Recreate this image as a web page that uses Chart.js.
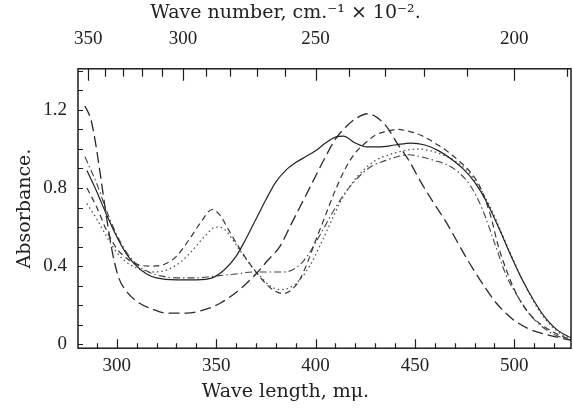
<!DOCTYPE html>
<html>
<head>
<meta charset="utf-8">
<script src="https://cdn.jsdelivr.net/npm/chart.js@4.4.1/dist/chart.umd.min.js"></script>
<style>
  html, body { margin: 0; padding: 0; background: #fff; }
  #wrap { width: 573px; height: 410px; }
</style>
</head>
<body>
<div id="wrap"><canvas id="myChart" width="573" height="410"></canvas></div>
<script>
// spectra (wave length in mμ, absorbance)
const wlSolid = [285, 290, 295, 300, 305, 310, 315, 320, 330, 340, 348, 354, 360, 365, 370, 375, 380, 385, 390, 395, 400, 405, 410, 414, 420, 426, 432, 440, 448, 455, 462, 468, 474, 480, 486, 492, 498, 504, 510, 516, 522, 529];
const absSolid = [0.89, 0.78, 0.66, 0.55, 0.46, 0.40, 0.36, 0.34, 0.33, 0.33, 0.34, 0.38, 0.45, 0.54, 0.64, 0.74, 0.83, 0.89, 0.93, 0.96, 0.99, 1.03, 1.06, 1.065, 1.03, 1.01, 1.01, 1.02, 1.03, 1.02, 0.99, 0.95, 0.90, 0.83, 0.73, 0.60, 0.46, 0.33, 0.22, 0.13, 0.07, 0.03];

const wlLongDash = [284, 287, 289, 292, 295, 298, 301, 305, 310, 318, 325, 335, 345, 352, 358, 364, 370, 376, 382, 388, 394, 400, 405, 410, 416, 421, 426, 431, 436, 441, 447, 453, 459, 466, 471, 476, 484, 491, 499, 507, 516, 529];
const absLongDash = [1.22, 1.15, 1.05, 0.85, 0.64, 0.46, 0.34, 0.27, 0.22, 0.18, 0.16, 0.16, 0.18, 0.21, 0.25, 0.30, 0.36, 0.43, 0.50, 0.62, 0.74, 0.86, 0.96, 1.05, 1.12, 1.16, 1.18, 1.16, 1.11, 1.03, 0.94, 0.83, 0.73, 0.62, 0.53, 0.44, 0.31, 0.21, 0.13, 0.08, 0.05, 0.02];

const wlDash = [285, 290, 295, 300, 305, 310, 318, 324, 330, 336, 342, 348, 352, 356, 360, 365, 370, 375, 380, 384, 388, 392, 396, 400, 405, 410, 415, 420, 425, 430, 436, 441, 447, 453, 460, 466, 472, 478, 483, 488, 492, 496, 500, 505, 510, 515, 520, 529];
const absDash = [0.80, 0.70, 0.58, 0.49, 0.44, 0.41, 0.40, 0.41, 0.45, 0.53, 0.62, 0.69, 0.66, 0.59, 0.52, 0.44, 0.37, 0.31, 0.27, 0.26, 0.28, 0.33, 0.42, 0.53, 0.66, 0.79, 0.90, 0.98, 1.03, 1.07, 1.09, 1.10, 1.09, 1.07, 1.03, 0.99, 0.94, 0.88, 0.80, 0.66, 0.50, 0.38, 0.28, 0.19, 0.13, 0.09, 0.06, 0.02];

const wlDot = [285, 290, 295, 300, 305, 310, 318, 325, 332, 338, 344, 350, 354, 358, 362, 367, 372, 377, 382, 387, 392, 397, 402, 407, 412, 418, 424, 430, 437, 444, 452, 458, 464, 470, 476, 482, 488, 494, 500, 506, 512, 518, 524, 529];
const absDot = [0.72, 0.64, 0.55, 0.47, 0.42, 0.39, 0.37, 0.38, 0.42, 0.48, 0.55, 0.60, 0.59, 0.54, 0.48, 0.41, 0.35, 0.30, 0.28, 0.29, 0.33, 0.40, 0.50, 0.61, 0.72, 0.82, 0.89, 0.94, 0.97, 0.99, 1.00, 0.99, 0.97, 0.94, 0.89, 0.81, 0.70, 0.56, 0.42, 0.29, 0.18, 0.10, 0.05, 0.03];

const wlDashDot = [284, 290, 295, 300, 305, 310, 316, 322, 330, 340, 350, 360, 368, 376, 384, 390, 395, 400, 405, 410, 416, 422, 428, 435, 441, 447, 453, 460, 466, 472, 478, 484, 490, 496, 502, 508, 514, 520, 529];
const absDashDot = [0.96, 0.82, 0.68, 0.56, 0.47, 0.41, 0.37, 0.35, 0.34, 0.34, 0.35, 0.36, 0.37, 0.37, 0.37, 0.39, 0.44, 0.52, 0.61, 0.70, 0.79, 0.86, 0.91, 0.94, 0.96, 0.97, 0.96, 0.94, 0.92, 0.88, 0.81, 0.69, 0.52, 0.35, 0.24, 0.15, 0.09, 0.05, 0.02];

// axes
const xTickLabels = [300, 350, 400, 450, 500];
const yTickLabels = [0, 0.4, 0.8, 1.2];
const topTickLabels = [350, 300, 250, 200];

function pts(xs, ys) {
  return xs.map((x, i) => ({ x: x, y: ys[i] }));
}

// small inward tick marks and the frame round the plot
const frameTicks = {
  id: 'frameTicks',
  afterDatasetsDraw(chart) {
    const { ctx, chartArea: a, scales } = chart;
    ctx.save();
    ctx.strokeStyle = '#1e1e1e';
    ctx.lineWidth = 1.2;
    ctx.beginPath();
    scales.x.ticks.forEach(t => {
      const px = Math.round(scales.x.getPixelForValue(t.value)) + 0.5;
      const len = t.label ? 9 : 5;
      ctx.moveTo(px, a.bottom);
      ctx.lineTo(px, a.bottom - len);
    });
    scales.x2.ticks.forEach(t => {
      const px = Math.round(scales.x2.getPixelForValue(t.value)) + 0.5;
      const len = t.label ? 12 : 8;
      ctx.moveTo(px, a.top);
      ctx.lineTo(px, a.top + len);
    });
    scales.y.ticks.forEach(t => {
      const py = Math.round(scales.y.getPixelForValue(t.value)) + 0.5;
      ctx.moveTo(a.left, py);
      ctx.lineTo(a.left + 5, py);
    });
    ctx.stroke();
    ctx.lineWidth = 1.5;
    ctx.strokeRect(a.left, a.top, a.right - a.left, a.bottom - a.top);
    ctx.restore();
  }
};

const tickFont = { family: 'Liberation Serif', size: 19 };
const titleFont = { family: 'DejaVu Serif', size: 19, weight: 'normal' };

// keep the plot box fixed, labels may hang over the edges
function fixPad(scale, h) {
  scale.height = h;
  scale.paddingLeft = 0;
  scale.paddingRight = 0;
}

const ctx = document.getElementById('myChart');

new Chart(ctx, {
  type: 'line',
  data: {
    datasets: [
      { data: pts(wlSolid, absSolid), borderColor: '#222', borderWidth: 1.2 },
      { data: pts(wlLongDash, absLongDash), borderColor: '#2a2a2a', borderWidth: 1.3, borderDash: [11, 5] },
      { data: pts(wlDash, absDash), borderColor: '#333', borderWidth: 1.2, borderDash: [6, 4] },
      { data: pts(wlDot, absDot), borderColor: '#555', borderWidth: 1.3, borderDash: [1.5, 3] },
      { data: pts(wlDashDot, absDashDot), borderColor: '#444', borderWidth: 1.1, borderDash: [7, 3, 1.5, 3] }
    ]
  },
  options: {
    responsive: false,
    animation: false,
    layout: { padding: { left: 0, right: 2, top: 0, bottom: 0 } },
    elements: {
      point: { radius: 0 },
      line: { cubicInterpolationMode: 'monotone', fill: false }
    },
    plugins: {
      legend: { display: false },
      tooltip: { enabled: false },
      title: {
        display: true,
        text: 'Wave number, cm.\u207B\u00B9 \u00D7 10\u207B\u00B2.',
        font: titleFont,
        color: '#222',
        padding: { top: 2, bottom: 4 }
      },
      subtitle: {
        display: true,
        position: 'bottom',
        text: 'Wave length, m\u03BC.',
        font: titleFont,
        color: '#222',
        padding: { top: 2, bottom: 7 }
      }
    },
    scales: {
      x: {
        type: 'linear',
        position: 'bottom',
        min: 280.5,
        max: 528.5,
        grid: { display: false, drawTicks: false },
        border: { display: false },
        afterBuildTicks: axis => {
          const t = [];
          for (let v = 290; v <= 520; v += 10) t.push({ value: v });
          axis.ticks = t;
        },
        ticks: {
          autoSkip: false,
          maxRotation: 0,
          padding: 6,
          color: '#222',
          font: tickFont,
          callback: value => xTickLabels.includes(value) ? String(value) : ''
        },
        afterFit: scale => fixPad(scale, 30)
      },
      x2: {
        type: 'linear',
        position: 'top',
        min: 280.5,
        max: 528.5,
        grid: { display: false, drawTicks: false },
        border: { display: false },
        afterBuildTicks: axis => {
          const t = [];
          for (let wn = 350; wn >= 190; wn -= 10) t.push({ value: 1e5 / wn });
          axis.ticks = t;
        },
        ticks: {
          autoSkip: false,
          maxRotation: 0,
          padding: 18,
          color: '#222',
          font: tickFont,
          callback: value => {
            const wn = Math.round(1e5 / value);
            return topTickLabels.includes(wn) ? String(wn) : '';
          }
        },
        afterFit: scale => fixPad(scale, 40)
      },
      y: {
        type: 'linear',
        min: -0.02,
        max: 1.41,
        grid: { display: false, drawTicks: false },
        border: { display: false },
        afterBuildTicks: axis => {
          const t = [];
          for (let i = 0; i <= 14; i++) t.push({ value: i / 10 });
          axis.ticks = t;
        },
        ticks: {
          autoSkip: false,
          padding: 11,
          color: '#222',
          font: tickFont,
          callback: value => yTickLabels.includes(value) ? String(value) : ''
        },
        title: {
          display: true,
          text: 'Absorbance.',
          font: titleFont,
          color: '#222',
          padding: { top: 14, bottom: 0 }
        },
        afterFit: scale => { scale.width = 78; }
      }
    }
  },
  plugins: [frameTicks]
});
</script>
</body>
</html>
